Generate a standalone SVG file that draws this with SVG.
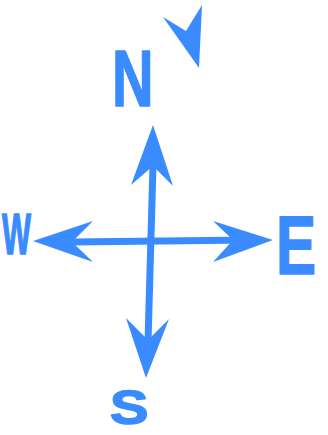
<svg xmlns="http://www.w3.org/2000/svg" width="328" height="435" viewBox="0 0 328 435">
  <style>
    .ink { fill: #398bff; }
    .shaft { stroke: #398bff; stroke-width: 7; stroke-linecap: butt; fill: none; }
    .lbl { fill: #398bff; stroke: #398bff; stroke-width: 1.5; stroke-linejoin: round; font-family: "Liberation Sans", Arial, sans-serif; font-weight: bold; }
  </style>
  <rect width="328" height="435" fill="#ffffff"/>
  <g id="connectors">
    <line class="shaft" x1="153" y1="165" x2="148" y2="342"/>
    <line class="shaft" x1="72" y1="242" x2="252" y2="240"/>
    <polygon id="arrow-n" class="ink" points="153,125 173,186 153,166 131,185"/>
    <polygon id="arrow-s" class="ink" points="146,378 126,318 148,340 169,319"/>
    <polygon id="arrow-w" class="ink" points="33,241 93,221 72,242 93,262"/>
    <polygon id="arrow-e" class="ink" points="273,240 213,221 233,240 213,262"/>
  </g>
  <g id="pointer">
    <polygon class="ink" points="163,17 186,31 202,5 199,68"/>
  </g>
  <g id="label-n">
    <text class="lbl" transform="translate(112,106) scale(0.72,1)" font-size="80">N</text>
  </g>
  <g id="label-w">
    <text class="lbl" transform="translate(2,254) scale(0.53,1)" font-size="58">W</text>
  </g>
  <g id="label-e">
    <text class="lbl" transform="translate(276,274) scale(0.72,1)" font-size="84">E</text>
  </g>
  <g id="label-s">
    <text class="lbl" transform="translate(110,424) scale(1.2,1)" font-size="48">S</text>
  </g>
</svg>
